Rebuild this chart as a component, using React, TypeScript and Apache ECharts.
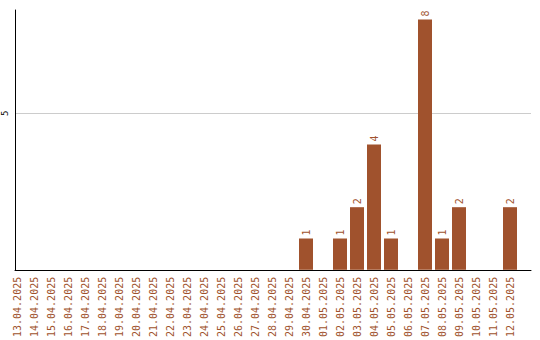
import React, { useEffect, useRef } from "react";
import * as echarts from "echarts";

const dates = [
  "13.04.2025", "14.04.2025", "15.04.2025", "16.04.2025", "17.04.2025", "18.04.2025",
  "19.04.2025", "20.04.2025", "21.04.2025", "22.04.2025", "23.04.2025", "24.04.2025",
  "25.04.2025", "26.04.2025", "27.04.2025", "28.04.2025", "29.04.2025", "30.04.2025",
  "01.05.2025", "02.05.2025", "03.05.2025", "04.05.2025", "05.05.2025", "06.05.2025",
  "07.05.2025", "08.05.2025", "09.05.2025", "10.05.2025", "11.05.2025", "12.05.2025",
];
const counts = [
  0, 0, 0, 0, 0, 0,
  0, 0, 0, 0, 0, 0,
  0, 0, 0, 0, 0, 1,
  0, 1, 2, 4, 1, 0,
  8, 1, 2, 0, 0, 2,
];
const yMax = 8.3;
const gridValue = 5;

const BROWN = "#a0522d";
const FONT = "DejaVu Sans Mono";

export default function App() {
  const ref = useRef<HTMLDivElement>(null);
  useEffect(() => {
    if (!ref.current) return;
    const chart = echarts.init(ref.current, null, { renderer: "svg" });
    chart.setOption({
      animation: false,
      grid: [
        { left: 8.5, width: 510, top: 10, bottom: 70 },
        { left: 11, right: 9, top: 10, bottom: 70 },
      ],
      xAxis: [
        {
          type: "category",
          gridIndex: 0,
          data: dates,
          axisLine: { show: false },
          axisTick: { show: false },
          axisLabel: {
            interval: 0,
            rotate: 90,
            margin: 7,
            color: BROWN,
            fontFamily: FONT,
            fontSize: 10,
          },
        },
        {
          type: "value",
          gridIndex: 1,
          min: 0,
          max: 1,
          axisLine: { show: true, onZero: false, lineStyle: { color: "#000", width: 1 } },
          axisTick: { show: false },
          axisLabel: { show: false },
          splitLine: { show: false },
        },
      ],
      yAxis: [
        {
          type: "value",
          gridIndex: 0,
          min: 0,
          max: yMax,
          show: false,
          splitLine: { show: false },
        },
        {
          type: "value",
          gridIndex: 1,
          min: 0,
          max: yMax,
          interval: 5,
          axisLine: { show: true, lineStyle: { color: "#000", width: 1 } },
          axisTick: { show: false },
          splitLine: { show: false },
          axisLabel: {
            formatter: (v: number) => (v === gridValue ? String(v) : ""),
            rotate: 90,
            margin: 6,
            color: "#000",
            fontFamily: FONT,
            fontSize: 9,
          },
        },
      ],
      series: [
        {
          type: "line",
          xAxisIndex: 1,
          yAxisIndex: 1,
          data: [],
          silent: true,
          z: 0,
          markLine: {
            silent: true,
            symbol: "none",
            z: 0,
            label: { show: false },
            lineStyle: { color: "#cccccc", type: "solid", width: 1 },
            data: [{ yAxis: gridValue }],
          },
        },
        {
          type: "bar",
          xAxisIndex: 0,
          yAxisIndex: 0,
          z: 5,
          data: counts,
          barWidth: 14,
          itemStyle: { color: BROWN },
          label: {
            show: true,
            position: "top",
            rotate: 90,
            align: "left",
            verticalAlign: "middle",
            distance: 3,
            color: BROWN,
            fontFamily: FONT,
            fontSize: 10,
            formatter: (p: any) => (p.value ? String(p.value) : ""),
          },
        },
      ],
    });
    return () => chart.dispose();
  }, []);
  return <div ref={ref} style={{ width: 540, height: 340, position: "absolute", left: 0, top: 0 }} />;
}
